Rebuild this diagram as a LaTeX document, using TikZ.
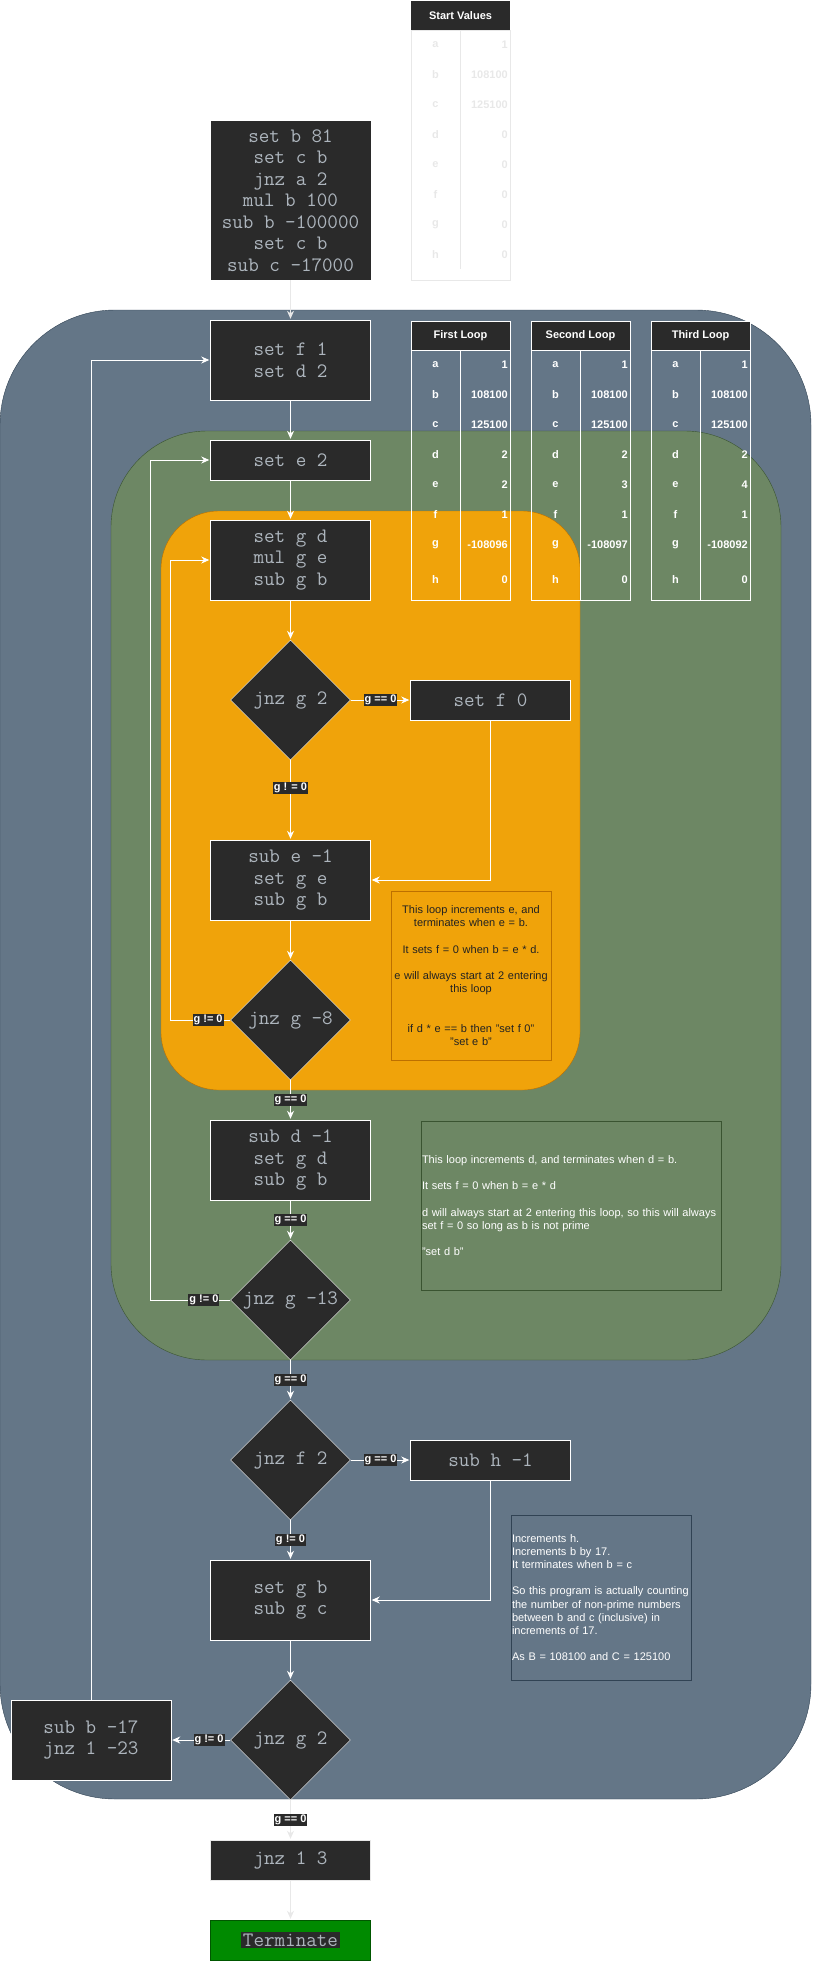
\documentclass[tikz,border=0pt]{standalone}
\usepackage{fontspec}
\setmainfont{Liberation Sans}
\usetikzlibrary{positioning, arrows.meta, shapes.geometric}
\definecolor{boxfill}{HTML}{2A2A2A}
\definecolor{codegray}{HTML}{ADB5BD}
\definecolor{bluefill}{HTML}{647687}
\definecolor{blueline}{HTML}{314354}
\definecolor{greenfill}{HTML}{6D8764}
\definecolor{greenline}{HTML}{3A5431}
\definecolor{orangefill}{HTML}{F0A30A}
\definecolor{orangeline}{HTML}{BD7000}
\definecolor{termfill}{HTML}{008A00}
\definecolor{termline}{HTML}{005700}
\definecolor{paleline}{HTML}{E8E8E8}
\definecolor{notedark}{HTML}{222222}

\tikzset{
    proc/.style={rectangle, draw=white, fill=boxfill, text=codegray, minimum width=160pt,
        minimum height=80pt, inner sep=0pt, align=center,
        font=\ttfamily\fontsize{20.5}{21.5}\selectfont},
    decision/.style={diamond, draw=white, fill=boxfill, text=codegray, minimum width=120pt,
        minimum height=120pt, inner sep=0pt, font=\ttfamily\fontsize{20.5}{21.5}\selectfont},
    cond/.style={fill=boxfill, text=white, inner sep=1pt, font=\bfseries\fontsize{11}{12}\selectfont},
    flow/.style={draw=white, line width=1pt, -{Stealth[length=8pt, width=7pt, inset=2.5pt]}},
    tabhead/.style={fill=boxfill, draw=white, text=white, minimum width=99pt, minimum height=29pt,
        inner sep=0pt, font=\bfseries\fontsize{11}{13}\selectfont},
    tabkey/.style={text=white, inner sep=0pt, font=\bfseries\fontsize{11}{13}\selectfont},
    tabval/.style={tabkey, anchor=east},
    notebox/.style={minimum height=169pt, inner sep=1pt, font=\fontsize{11}{13.2}\selectfont}
}

\begin{document}
\begin{tikzpicture}[x=1pt, y=-1pt, shorten >=1pt, on grid]
    \useasboundingbox (0,0) rectangle (812,1970);

    % loop regions
    \draw[blueline, fill=bluefill, rounded corners=115pt] (0,310) rectangle (811,1799);
    \draw[greenline, fill=greenfill, rounded corners=96pt] (111,431) rectangle (781,1360);
    \draw[orangeline, fill=orangefill, rounded corners=58pt] (161,511) rectangle (580,1090);

    % register tables
    \node[tabhead, draw=none] (starthead) at (460.5,15.5) {Start Values};
    \draw[paleline] (411,30) rectangle (510,280) (460,30) -- (460,269);
    \foreach \r/\v/\ry in {a/1/45, b/108100/75, c/125100/105, d/0/135, e/0/165, f/0/195, g/0/225, h/0/255} {
        \node[tabkey, text=paleline] (startkey\r) at (435.5,\ry) {\r};
        \node[tabval, text=paleline] (startval\r) at (508,\ry) {\v};
    }
    \foreach \tx/\ttitle/\te/\tg [count=\ti] in {411/First Loop/2/-108096, 531/Second Loop/3/-108097, 651/Third Loop/4/-108092} {
        \draw[white] (\tx,350) rectangle (\tx+99,600) (\tx+49,350) -- (\tx+49,600);
        \node[tabhead] (loophead\ti) at (\tx+49.5,335.5) {\ttitle};
        \foreach \r/\v/\ry in {a/1/365, b/108100/395, c/125100/425, d/2/455, e/\te/485, f/1/515, g/\tg/545, h/0/580} {
            \node[tabkey] (loopkey\ti\r) at (\tx+24.5,\ry) {\r};
            \node[tabval] (loopval\ti\r) at (\tx+97,\ry) {\v};
        }
    }

    % notes
    \node[notebox, draw=orangeline, text=notedark, minimum width=160pt, text width=158pt, align=center] (orangenote) at (471,975.5)
        {This loop increments e, and\\terminates when e = b.\\[13.2pt]It sets f = 0 when b = e * d.\\[13.2pt]e will always start at 2 entering\\this loop\\[26.4pt]if d * e == b then "set f 0"\\"set e b"};
    \node[notebox, draw=greenline, text=white, minimum width=300pt, text width=298pt, align=left] (greennote) at (571,1205.5)
        {This loop increments d, and terminates when d = b.\\[13.2pt]It sets f = 0 when b = e * d\\[13.2pt]d will always start at 2 entering this loop, so this will always\\set f = 0 so long as b is not prime\\[13.2pt]"set d b"};
    \node[notebox, draw=blueline, text=white, minimum width=180pt, minimum height=165pt, text width=178pt, align=left] (bluenote) at (601,1597.5)
        {Increments h.\\Increments b by 17.\\It terminates when b = c\\[13.2pt]So this program is actually counting\\the number of non-prime numbers\\between b and c (inclusive) in\\increments of 17.\\[13.2pt]As B = 108100 and C = 125100};

    % program
    \node[proc, draw=none, minimum height=159pt] (init) at (290.5,200.5)
        {set b 81\\set c b\\jnz a 2\\mul b 100\\sub b -100000\\set c b\\sub c -17000};
    \node[proc] (setfd) [below=159.5pt of init] {set f 1\\set d 2};
    \node[proc, minimum height=40pt] (sete) [below=100pt of setfd] {set e 2};
    \node[proc] (setgd) [below=100pt of sete] {set g d\\mul g e\\sub g b};
    \node[decision] (jnzgtwo) [below=140pt of setgd] {jnz g 2};
    \node[proc, minimum height=40pt] (setfzero) [right=200pt of jnzgtwo] {set f 0};
    \node[proc] (sube) [below=180pt of jnzgtwo] {sub e -1\\set g e\\sub g b};
    \node[decision] (jnzgeight) [below=140pt of sube] {jnz g -8};
    \node[proc] (subd) [below=140pt of jnzgeight] {sub d -1\\set g d\\sub g b};
    \node[decision] (jnzgthirteen) [below=140pt of subd] {jnz g -13};
    \node[decision] (jnzf) [below=160pt of jnzgthirteen] {jnz f 2};
    \node[proc, minimum height=40pt] (subh) [right=200pt of jnzf] {sub h -1};
    \node[proc] (setgb) [below=140pt of jnzf] {set g b\\sub g c};
    \node[decision] (jnzgtwob) [below=140pt of setgb] {jnz g 2};
    \node[proc] (subb) [left=199.5pt of jnzgtwob] {sub b -17\\jnz 1 -23};
    \node[proc, draw=paleline, minimum height=40pt] (jnzone) [below=120pt of jnzgtwob] {jnz 1 3};
    \node[proc, fill=termfill, draw=termline, minimum height=40pt] (term) [below=80pt of jnzone]
        {\setlength{\fboxsep}{2pt}\colorbox{boxfill}{Terminate}};

    \draw[flow, draw=paleline] (init.south) -- (setfd.north);
    \draw[flow] (setfd.south) -- (sete.north);
    \draw[flow] (sete.south) -- (setgd.north);
    \draw[flow] (setgd.south) -- (jnzgtwo.north);
    \draw[flow] (jnzgtwo.east) -- node[cond] {g == 0} (setfzero.west);
    \draw[flow] (jnzgtwo.south) -- node[cond, pos=0.35] {g ! = 0} (sube.north);
    \draw[flow] (setfzero.south) |- (sube.east);
    \draw[flow] (sube.south) -- (jnzgeight.north);
    \draw[flow] (jnzgeight.west) -- node[cond, pos=0.37] {g != 0} ++(-60pt,0) |- (setgd.west);
    \draw[flow] (jnzgeight.south) -- node[cond] {g == 0} (subd.north);
    \draw[flow] (subd.south) -- node[cond] {g == 0} (jnzgthirteen.north);
    \draw[flow] (jnzgthirteen.west) -- node[cond, pos=0.33] {g != 0} ++(-80pt,0) |- (sete.west);
    \draw[flow] (jnzgthirteen.south) -- node[cond] {g == 0} (jnzf.north);
    \draw[flow] (jnzf.east) -- node[cond] {g == 0} (subh.west);
    \draw[flow] (jnzf.south) -- node[cond] {g != 0} (setgb.north);
    \draw[flow] (subh.south) |- (setgb.east);
    \draw[flow] (setgb.south) -- (jnzgtwob.north);
    \draw[flow] (jnzgtwob.west) -- node[cond, pos=0.36] {g != 0} (subb.east);
    \draw[flow] (subb.north) |- (setfd.west);
    \draw[flow, draw=paleline] (jnzgtwob.south) -- node[cond] {g == 0} (jnzone.north);
    \draw[flow, draw=paleline] (jnzone.south) -- (term.north);
\end{tikzpicture}
\end{document}
